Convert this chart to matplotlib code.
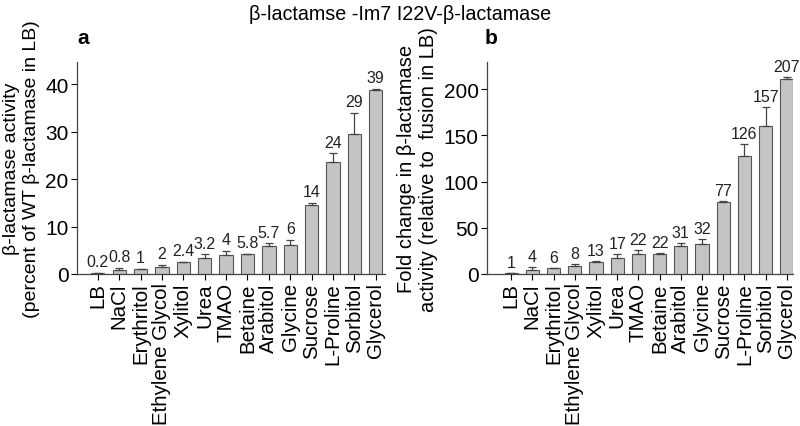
import numpy as np
import matplotlib.pyplot as plt

plt.rcParams['font.family'] = ['Liberation Sans', 'DejaVu Sans']

categories = ['LB', 'NaCl', 'Erythritol', 'Ethylene Glycol', 'Xylitol', 'Urea', 'TMAO',
              'Betaine', 'Arabitol', 'Glycine', 'Sucrose', 'L-Proline', 'Sorbitol', 'Glycerol']

act_vals = [0.2, 0.85, 1.05, 1.5, 2.45, 3.35, 4.1, 4.15, 5.9, 6.1, 14.5, 23.6, 29.5, 38.7]
act_err = [0.05, 0.45, 0.1, 0.45, 0.15, 0.8, 0.8, 0.15, 0.6, 1.1, 0.5, 1.9, 4.5, 0.35]
act_labels = ['0.2', '0.8', '1', '2', '2.4', '3.2', '4', '5.8', '5.7', '6', '14', '24', '29', '39']

fold_vals = [1, 4.3, 6, 8.3, 12.6, 17.3, 21.6, 21.6, 30, 32, 77.5, 128, 159.5, 210.5]
fold_err = [0.3, 2.8, 0.6, 2.2, 1.0, 4.3, 4.4, 0.8, 3, 6, 1.2, 12.5, 21, 2.5]
fold_labels = ['1', '4', '6', '8', '13', '17', '22', '22', '31', '32', '77', '126', '157', '207']

fig = plt.figure(figsize=(8, 4.27), dpi=100)
ax1 = fig.add_axes([0.096, 0.356, 0.385, 0.496])
ax2 = fig.add_axes([0.609, 0.356, 0.382, 0.496])

x = np.arange(len(categories))


def draw(ax, vals, err, labels, ylim, yticks, off):
    ax.bar(x, vals, width=0.62, color='#c4c4c4', edgecolor='#555555', linewidth=0.8)
    ax.errorbar(x, vals, yerr=[np.zeros(len(vals)), err], fmt='none', ecolor='#444444',
                elinewidth=0.9, capsize=3, capthick=0.9)
    for xi, v, e, lab in zip(x, vals, err, labels):
        ax.text(xi, v + e + off, lab, ha='center', va='bottom', fontsize=11.5, color='#222222')
    ax.set_ylim(*ylim)
    ax.set_yticks(yticks)
    ax.set_xticks(x)
    ax.set_xticklabels(categories, rotation=90, fontsize=14.8)
    ax.tick_params(axis='y', labelsize=15, direction='out', length=4, width=0.8, pad=2)
    ax.tick_params(axis='x', direction='out', length=4, width=0.8, pad=2)
    for s in ['top', 'right']:
        ax.spines[s].set_visible(False)
    for s in ['left', 'bottom']:
        ax.spines[s].set_color('#444444')
        ax.spines[s].set_linewidth(0.9)


draw(ax1, act_vals, act_err, act_labels, (0, 44.6), [0, 10, 20, 30, 40], 0.7)
ax1.set_xlim(-0.98, 13.42)
ax1.set_ylabel('β-lactamase activity\n(percent of WT β-lactamase in LB)', fontsize=14, labelpad=4)

draw(ax2, fold_vals, fold_err, fold_labels, (0, 229), [0, 50, 100, 150, 200], 3.5)
ax2.set_xlim(-1.13, 13.28)
ax2.set_ylabel('Fold change in β-lactamase\nactivity (relative to  fusion in LB)', fontsize=14.5, labelpad=4)

fig.text(0.5, 0.965, 'β-lactamse -Im7 I22V-β-lactamase', ha='center', va='center', fontsize=14.2)
fig.text(0.097, 0.91, 'a', fontsize=15, fontweight='bold', ha='left', va='center')
fig.text(0.606, 0.91, 'b', fontsize=15, fontweight='bold', ha='left', va='center')

fig.savefig('out.png', dpi=100)
